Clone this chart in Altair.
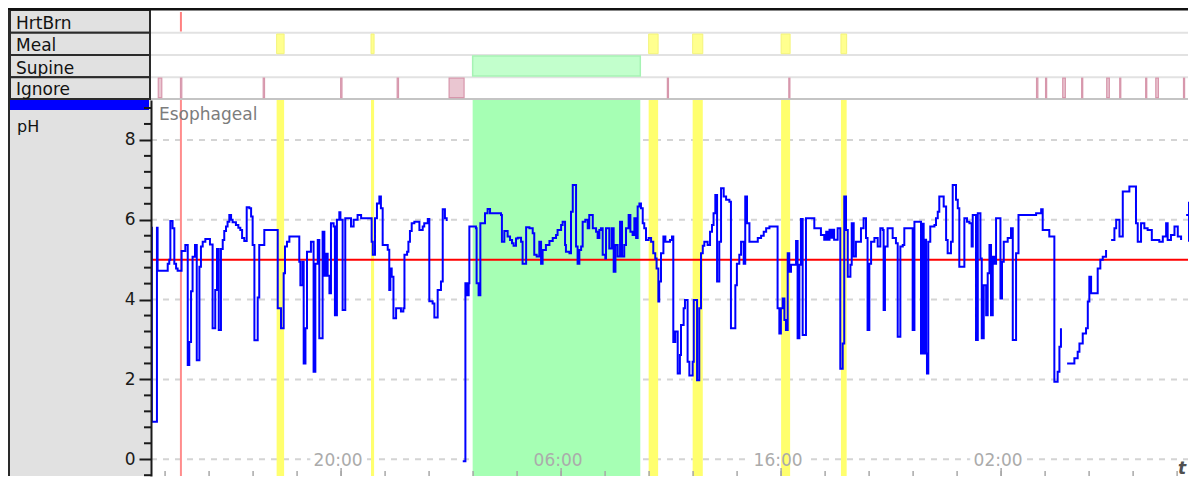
import altair as alt
import pandas as pd

# ---------------- data ----------------
# time in hours since midnight of day 1, pH value (None = ignored / gap)
ph_time = [
    11.37, 11.40, 11.63, 11.66, 12.12, 12.19, 12.24, 12.34, 12.42, 12.50, 12.57, 12.75, 12.92,
    13.03, 13.10, 13.18, 13.25, 13.36, 13.44, 13.56, 13.63, 13.71, 13.83, 14.04, 14.16, 14.28,
    14.36, 14.44, 14.54, 14.62, 14.69, 14.77, 14.84, 14.92, 15.00, 15.07, 15.22, 15.33, 15.42,
    15.50, 15.60, 15.71, 15.83, 15.91, 15.98, 16.06, 16.21, 16.28, 16.51, 17.12, 17.27, 17.39,
    17.45, 17.54, 17.65, 18.10, 18.15, 18.25, 18.30, 18.38, 18.45, 18.63, 18.75, 18.83, 18.94,
    19.01, 19.16, 19.24, 19.31, 19.39, 19.47, 19.54, 19.66, 19.72, 19.81, 19.92, 19.97, 20.07,
    20.19, 20.45, 20.57, 20.75, 20.91, 21.39, 21.44, 21.54, 21.63, 21.74, 21.81, 21.89, 22.12,
    22.19, 22.24, 22.30, 22.38, 22.50, 22.72, 22.83, 22.88, 23.00, 23.06, 23.13, 23.21, 23.33,
    23.56, 23.71, 23.78, 23.94, 24.01, 24.16, 24.24, 24.39, 24.54, 24.62, 24.72, 24.80, 24.85,
    25.53, 25.65, 25.69, 25.72, 25.76, 25.80, 25.83, 26.13, 26.16, 26.25, 26.33, 26.54, 26.66,
    26.77, 27.27, 27.31, 27.42, 27.57, 27.68, 27.77, 27.84, 27.95, 28.03, 28.18, 28.25, 28.41,
    28.56, 28.71, 28.78, 28.89, 29.01, 29.09, 29.16, 29.31, 29.47, 29.62, 29.77, 29.84, 30.00,
    30.07, 30.18, 30.22, 30.38, 30.45, 30.53, 30.68, 30.75, 30.83, 30.91, 30.98, 31.10, 31.21,
    31.28, 31.44, 31.59, 31.66, 31.74, 31.81, 31.89, 32.01, 32.04, 32.19, 32.30, 32.39, 32.47,
    32.57, 32.68, 32.77, 32.87, 32.95, 33.07, 33.15, 33.25, 33.33, 33.41, 33.48, 33.56, 33.63,
    33.71, 33.78, 33.86, 33.98, 34.09, 34.19, 34.28, 34.34, 34.42, 34.46, 34.54, 34.65, 34.74,
    34.95, 35.04, 35.10, 35.19, 35.30, 35.40, 35.45, 35.57, 35.63, 35.75, 35.83, 35.98, 36.03,
    36.18, 36.28, 36.36, 36.44, 36.51, 36.66, 36.77, 36.86, 36.93, 37.01, 37.09, 37.19, 37.27,
    37.39, 37.50, 37.65, 37.72, 37.92, 37.99, 38.10, 38.18, 38.30, 38.37, 38.45, 38.56, 38.94,
    39.09, 39.21, 39.32, 39.47, 39.84, 39.92, 39.99, 40.07, 40.15, 40.22, 40.30, 40.37, 40.45,
    40.68, 40.75, 40.83, 40.90, 40.98, 41.13, 41.51, 41.81, 41.96, 42.05, 42.11, 42.20, 42.26,
    42.35, 42.41, 42.57, 42.69, 42.80, 42.87, 42.95, 43.03, 43.15, 43.21, 43.30, 43.40, 43.63,
    43.75, 43.86, 43.93, 44.01, 44.09, 44.24, 44.39, 44.51, 44.62, 44.66, 44.72, 44.84, 45.07,
    45.22, 45.30, 45.42, 45.53, 45.60, 45.98, 46.06, 46.36, 46.42, 46.48, 46.54, 46.59, 46.63,
    46.69, 46.78, 46.97, 47.04, 47.12, 47.19, 47.39, 47.50, 47.57, 47.72, 47.80, 47.95, 48.03,
    48.10, 48.33, 48.45, 48.56, 48.66, 48.71, 48.86, 48.94, 49.06, 49.12, 49.21, 49.32, 49.39,
    49.47, 49.54, 49.62, 49.69, 49.77, 49.97, 50.04, 50.12, 50.30, 50.45, 50.53, 50.68, 50.79,
    51.59, 51.82, 51.89, 52.19, 52.42, 52.57, 52.65, 52.72, 52.80, 53.00, 53.33, 53.48, 53.56,
    53.71, 53.86, 53.94, 54.01, 54.09, 54.39, 54.51, 54.62, 54.77, 54.85, 55.00, 55.15, 55.23,
    55.38, 55.53, 55.83, 56.13, 56.21, 56.36, 56.51, 56.66, 56.85, 57.19, 57.35, 57.50, 57.57,
    57.72, 57.88, 58.03, 58.18, 58.35, 58.41, 58.56, 58.74, 58.80, 58.86,
]
ph_value = [
    5.8, 0.94, 5.8, 4.72, 4.9, 5.0, 5.97, 5.79, 4.9, 4.78, 4.72, 5.22, 5.37,
    2.36, 2.94, 4.21, 5.07, 5.37, 2.48, 4.82, 5.33, 5.45, 5.52, 5.38, 3.28, 4.24,
    5.27, 3.24, 5.27, 5.49, 5.72, 5.83, 5.95, 6.12, 6.0, 5.94, 5.87, 5.80, 5.74,
    5.54, 5.47, 6.31, 6.29, 6.08, 5.37, 2.98, 4.05, 5.37, 5.74, 3.78, 3.28, 4.66,
    5.33, 5.45, 5.58, 4.95, 4.36, 4.95, 2.4, 3.28, 5.2, 5.45, 2.19, 4.9, 5.49,
    3.03, 5.7, 4.6, 5.15, 4.6, 4.16, 5.91, 5.83, 3.61, 6.0, 6.19, 6.0, 3.74,
    6.04, 5.83, 6.0, 6.12, 6.04, 5.45, 5.12, 6.04, 6.41, 6.58, 6.29, 5.37, 5.25,
    4.24, 4.78, 4.57, 3.53, 3.78, 3.70, 3.78, 5.12, 5.2, 5.45, 5.72, 5.91, 5.95,
    5.74, 5.83, 5.91, 6.02, 3.96, 3.9, 3.55, 4.24, 4.45, 6.26, 6.04, 5.97, None,
    -0.05, 4.41, 4.11, 4.41, 4.11, 4.41, 5.83, 5.79, 4.41, 4.11, 5.91, 6.16, 6.27,
    6.16, 6.12, 5.45, 5.72, 5.58, 5.49, 5.41, 5.35, 5.53, 5.55, 5.45, 4.9, 5.81,
    5.79, 5.66, 5.12, 5.08, 5.45, 4.9, 5.24, 5.37, 5.47, 5.54, 5.62, 5.74, 5.87,
    5.95, 5.37, 5.2, 5.16, 6.2, 6.87, 5.33, 4.9, 5.24, 5.33, 5.95, 6.0, 5.79,
    6.12, 5.79, 5.70, 5.54, 5.74, 5.79, 5.12, 5.03, 5.79, 5.28, 5.79, 4.7, 5.37,
    5.08, 5.95, 5.08, 5.37, 5.79, 6.12, 5.7, 5.62, 6.04, 5.54, 6.33, 6.41, 6.29,
    5.91, 5.79, 5.49, 5.54, 5.45, 5.16, 5.03, 4.78, 3.95, 4.45, 5.16, 5.58, 5.45,
    5.49, 5.58, 2.94, 3.2, 2.15, 2.61, 3.36, 3.78, 3.99, 2.44, 2.1, 2.44, 3.99,
    1.98, 3.78, 5.16, 5.35, 5.45, 5.37, 5.7, 5.87, 6.16, 6.62, 4.45, 5.45, 6.79,
    6.58, 6.5, 6.45, 3.28, 4.36, 4.9, 5.12, 5.45, 4.9, 6.58, 5.91, 5.45, 5.54,
    5.6, 5.7, 5.79, 5.83, 3.78, 3.15, 3.78, 4.03, 3.49, 3.24, 5.16, 4.7, 4.87,
    5.47, 3.03, 4.87, 6.02, 3.11, 6.04, 5.79, 5.62, 5.5, 5.7, 5.5, 5.75, 5.55,
    5.75, 5.5, 5.79, 2.27, 2.9, 6.58, 5.74, 4.57, 4.87, 5.91, 5.08, 5.45, 5.79,
    6.04, 5.54, 3.24, 4.9, 5.45, 5.54, 5.33, 5.79, 5.74, 3.74, 5.33, 5.79, 5.54,
    5.41, 3.07, 5.33, 5.37, 5.79, 3.24, 5.95, 2.65, 5.9, 2.65, 5.5, 2.65, 2.15,
    5.45, 5.83, 5.87, 6.04, 6.2, 6.58, 6.33, 5.49, 5.16, 5.45, 6.87, 6.5, 6.29,
    4.82, 6.04, 5.95, 5.91, 5.33, 6.12, 2.99, 6.16, 5.03, 3.03, 4.36, 3.61, 4.66,
    5.37, 3.61, 5.07, 4.9, 6.04, 4.03, 4.95, 5.45, 5.54, 5.79, 2.99, 5.16, 6.12,
    6.16, 6.26, 5.74, 5.58, 1.94, 2.19, 2.82, 3.28, None, 2.4, 2.53, 2.69, 2.9,
    3.15, 3.28, 3.95, 4.57, 4.16, 4.78, 5.0, 5.07, 5.24, None, 5.49, 5.79, 6.0,
    5.58, 6.71, 6.83, 5.91, 5.45, 5.91, 5.79, 5.74, 5.49, 5.45, 5.58, 5.91, 5.49,
    5.62, 5.83, 5.58, 5.49, None, 6.12, 6.45, 6.3, 5.45, 5.45,
]

heartburn_time = [12.72]
meal_start = [17.07, 21.36, 33.98, 35.98, 40.00, 42.72]
meal_end = [17.41, 21.50, 34.41, 36.44, 40.41, 42.98]
supine_start = [25.98]
supine_end = [33.60]
ignore_start = [11.69, 12.70, 16.46, 19.98, 22.55, 24.91, 34.83, 40.35, 51.61,
                52.02, 52.80, 53.66, 54.80, 55.39, 56.57, 57.03, 58.29, 58.79]
ignore_end = [11.85, 12.76, 16.52, 20.04, 22.61, 25.59, 34.88, 40.40, 51.67,
              52.07, 52.92, 53.71, 54.92, 55.44, 56.62, 57.15, 58.34, 58.84]

row_labels = ["HrtBrn", "Meal", "Supine", "Ignore"]
channel_label = ["Esophageal"]
unit_label = ["pH"]
time_title = ["t"]
ph_threshold = [5]
y_major = [0, 2, 4, 6, 8]
y_minor = [-0.4, 0.4, 0.8, 1.2, 1.6, 2.4, 2.8, 3.2, 3.6, 4.4, 4.8, 5.2, 5.6,
           6.4, 6.8, 7.2, 7.6, 8.4, 8.8]
x_label_hours = [20, 30, 40, 50]
x_labels = ["20:00", "06:00", "16:00", "02:00"]
x_tick_hours = [12, 14, 16, 18, 20, 22, 24, 26, 28, 30, 32, 34, 36, 38, 40,
                42, 44, 46, 48, 50, 52, 54, 56, 58]

# ---------------- tables ----------------
trace_df = pd.DataFrame({"t": ph_time, "v": ph_value})
hb_df = pd.DataFrame({"t": heartburn_time})
meal_df = pd.DataFrame({"t": meal_start, "t2": meal_end})
sup_df = pd.DataFrame({"t": supine_start, "t2": supine_end})
ign_df = pd.DataFrame({"t": ignore_start, "t2": ignore_end})
grid_df = pd.DataFrame({"v": y_major})
minor_df = pd.DataFrame({"v": y_minor})
thr_df = pd.DataFrame({"v": ph_threshold})
xlab_df = pd.DataFrame({"t": x_label_hours, "label": x_labels})
xtick_df = pd.DataFrame({"t": x_tick_hours})
dummy = pd.DataFrame({"k": [0]})

# ---------------- layout / style ----------------
# whole chart must stay <= 1181 px wide (page body) so the svg is not shrunk
W, H = 1038, 376
FONT = "DejaVu Sans"
xs = alt.Scale(domain=[11.36, 58.54], nice=False, zero=False, clamp=True)
ys = alt.Scale(domain=[-0.42, 9.0], nice=False, zero=False)
yaxis = alt.Axis(values=y_major, tickSize=12, tickWidth=2, tickColor="#1a1a1a",
                 domainColor="#1a1a1a", domainWidth=2, labelFont=FONT,
                 labelFontSize=17, labelColor="#1a1a1a", labelPadding=4,
                 grid=False, title=None, zindex=1, labelFlush=False,
                 labelOverlap=False)


def X(f):
    return alt.X(f"{f}:Q", scale=xs, axis=None)


def Y(f):
    return alt.Y(f"{f}:Q", scale=ys, axis=yaxis)


def vrect(color, x0, x1, y0, y1, **kw):
    return alt.Chart(dummy).mark_rect(color=color, **kw).encode(
        x=alt.value(x0), x2=alt.value(x1), y=alt.value(y0), y2=alt.value(y1))


layers = []
# left grey panel, frame lines
layers.append(vrect("#e1e1e1", -142, 0, -90, H))
bounds = [-90, -67.3, -45, -22.7, -1]
for i, lab in enumerate(row_labels):
    d = pd.DataFrame({"label": [lab]})
    layers.append(alt.Chart(d).mark_rect(fill="#e1e1e1", stroke="#2a2a2a", strokeWidth=2).encode(
        x=alt.value(-141), x2=alt.value(-1), y=alt.value(bounds[i]), y2=alt.value(bounds[i + 1])))
    layers.append(alt.Chart(d).mark_text(align="left", baseline="alphabetic", font=FONT,
                                         fontSize=17, color="#111111").encode(
        x=alt.value(-135), y=alt.value(bounds[i + 1] - 3.7), text="label:N"))
layers.append(vrect("#111111", -143, W - 1, -92, -89.5))
layers.append(vrect("#2a2a2a", -143, -141, -90, H))
layers.append(vrect("#0000ff", -141, -2, 0, 10))
layers.append(alt.Chart(pd.DataFrame({"label": unit_label})).mark_text(
    align="left", baseline="alphabetic", font=FONT, fontSize=16, color="#111111").encode(
    x=alt.value(-134), y=alt.value(31.5), text="label:N"))

# row separators
for j, b in enumerate(bounds[1:]):
    col = "#c4c4c4" if j == len(bounds) - 2 else "#e2e2e2"
    layers.append(alt.Chart(dummy).mark_rule(color=col, strokeWidth=2).encode(
        x=alt.value(0), x2=alt.value(W - 1), y=alt.value(b)))

# event rows
layers.append(alt.Chart(hb_df).mark_rule(color="#ff8080", strokeWidth=2).encode(
    x=X("t"), y=alt.value(-88), y2=alt.value(-68.5)))
layers.append(alt.Chart(meal_df).mark_rect(fill="#ffff8f", stroke="#f4f47a", strokeWidth=1).encode(
    x=X("t"), x2="t2:Q", y=alt.value(-66), y2=alt.value(-46.3)))
layers.append(alt.Chart(sup_df).mark_rect(fill="#c2ffcc", stroke="#a6f3b4", strokeWidth=1.5).encode(
    x=X("t"), x2="t2:Q", y=alt.value(-44), y2=alt.value(-24)))
layers.append(alt.Chart(ign_df).transform_filter("datum.t < 58.5").mark_rect(
    fill="#eac6d1", stroke="#d797ac", strokeWidth=1.2).encode(
    x=X("t"), x2="t2:Q", y=alt.value(-21.8), y2=alt.value(-2.3)))

# pH panel
layers.append(alt.Chart(grid_df).mark_rule(color="#d4d4d4", strokeWidth=2, strokeDash=[6, 6]).encode(
    y=Y("v"), x=alt.value(0), x2=alt.value(W - 1)))
layers.append(alt.Chart(minor_df).mark_rule(color="#1a1a1a", strokeWidth=2).encode(
    y=Y("v"), x=alt.value(-7), x2=alt.value(0)))
layers.append(alt.Chart(xlab_df).mark_text(font=FONT, fontSize=17, fill="white", stroke="white",
                                           strokeWidth=9, baseline="middle", dx=-3).encode(
    x=X("t"), y=alt.value(361), text="label:N"))
layers.append(alt.Chart(sup_df).mark_rect(color="#a6ffb4").encode(
    x=X("t"), x2="t2:Q", y=alt.value(0), y2=alt.value(H)))
layers.append(alt.Chart(meal_df).mark_rect(color="#ffff6e").encode(
    x=X("t"), x2="t2:Q", y=alt.value(0), y2=alt.value(H)))
layers.append(alt.Chart(hb_df).mark_rule(color="#ff8c8c", strokeWidth=2).encode(
    x=X("t"), y=alt.value(0), y2=alt.value(H)))
layers.append(alt.Chart(thr_df).mark_rule(color="#ff0000", strokeWidth=2).encode(
    y=Y("v"), x=alt.value(0), x2=alt.value(W - 1)))
layers.append(alt.Chart(trace_df).mark_line(color="#0000ff", strokeWidth=2,
                                            interpolate="step-after", clip=True).encode(
    x=X("t"), y=Y("v")))
layers.append(alt.Chart(xlab_df).mark_text(font=FONT, fontSize=17, color="#ababab",
                                           baseline="middle", dx=-3).encode(
    x=X("t"), y=alt.value(361), text="label:N"))
layers.append(alt.Chart(xtick_df).mark_rule(color="#a8a8a8", strokeWidth=1.5).encode(
    x=X("t"), y=alt.value(371), y2=alt.value(H)))
layers.append(alt.Chart(xlab_df).mark_rule(color="#a8a8a8", strokeWidth=1.5).encode(
    x=X("t"), y=alt.value(368), y2=alt.value(H)))
layers.append(alt.Chart(pd.DataFrame({"label": channel_label})).mark_text(
    align="left", baseline="alphabetic", font=FONT, fontSize=17, color="#7c7c7c").encode(
    x=alt.value(8), y=alt.value(19.5), text="label:N"))
layers.append(alt.Chart(pd.DataFrame({"label": time_title})).mark_text(
    align="center", baseline="alphabetic", font=FONT, fontSize=17, fontStyle="italic",
    fontWeight="bold", color="#505050").encode(
    x=alt.value(1031), y=alt.value(374), text="label:N"))

chart = alt.layer(*layers).properties(
    width=W, height=H, padding=0, background="white"
).configure_view(stroke=None)

chart.save("out.html", embed_options={"renderer": "svg", "actions": False})
